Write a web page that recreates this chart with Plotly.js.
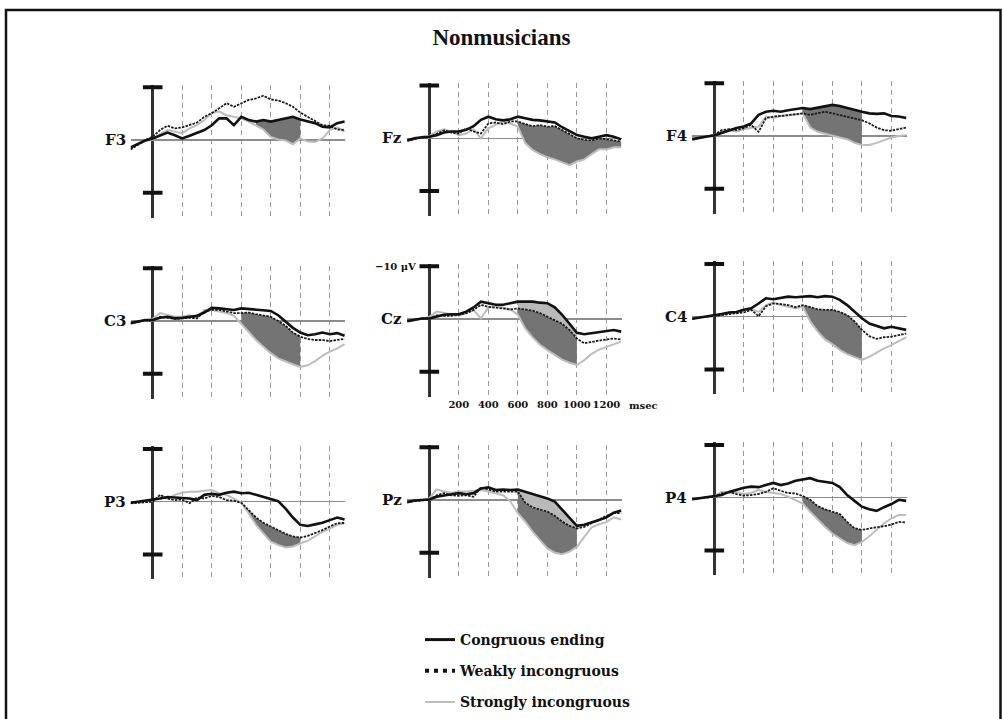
<!DOCTYPE html>
<html><head><meta charset="utf-8">
<script src="https://cdn.plot.ly/plotly-3.0.1.min.js"></script>
<style>html,body{margin:0;padding:0;background:#fff;}#chart{width:1003px;height:719px;}</style>
</head><body><div id="chart"></div>
<script>
// ---------- data ----------
const times = [-150,-100,-50,0,50,100,150,200,250,300,350,400,450,500,550,600,650,700,750,800,850,900,950,1000,1050,1100,1150,1200,1250,1300];
const channels = ['F3','Fz','F4','C3','Cz','C4','P3','Pz','P4'];
const conditionNames = ['Congruous ending','Weakly incongruous','Strongly incongruous'];
const xTickValues = [200,400,600,800,1000,1200];
const xTickLabels = ['200','400','600','800','1000','1200'];
const calibrationValues = [-10, 10];

// amplitudes in µV (negative plotted upward)
const F3_congruous = [1.4,0.8,0.1,-0.3,-0.9,-1.4,-0.9,-0.3,-0.8,-1.3,-1.9,-2.8,-4.1,-4.1,-2.8,-4.4,-3.8,-3.5,-3.8,-3.5,-3.8,-4.1,-4.4,-3.9,-3.5,-3.2,-2.5,-2.4,-3.2,-3.5];
const F3_weakly    = [1.8,0.9,0,-0.6,-1.9,-2.7,-2.2,-2.4,-2.8,-3.3,-4.4,-5.1,-6.0,-7.0,-6.3,-7.0,-7.6,-7.9,-8.4,-7.7,-7.5,-7.0,-6.3,-5.2,-4.4,-3.5,-2.8,-2.7,-2.0,-1.9];
const F3_strongly  = [1.6,0.8,0.1,0,-1.1,-1.9,-1.6,-1.3,-2.2,-2.8,-3.8,-5.1,-5.4,-4.7,-4.4,-4.1,-3.5,-2.8,-2.0,-0.6,-0.1,0.1,0.8,-0.3,0.3,0.4,-0.3,-1.9,-2.4,-1.6];

const Fz_congruous = [0.4,0,-0.2,-0.3,-0.6,-1.1,-1.3,-1.3,-1.6,-2.3,-3.5,-4.1,-3.6,-3.4,-3.6,-4.1,-3.8,-3.5,-3.4,-3.2,-3.0,-2.1,-1.3,-0.6,-0.3,0,-0.3,-0.6,-0.3,0.2];
const Fz_weakly    = [0.4,0.1,-0.1,-0.2,-0.9,-1.5,-1.1,-0.9,-1.9,-1.3,-0.9,-2.8,-3.0,-2.7,-3.2,-3.2,-2.7,-2.3,-2.5,-2.2,-2.3,-1.6,-0.8,0,0.3,0.4,0,0.2,0.4,0.6];
const Fz_strongly  = [0.6,0.2,-0.3,-0.4,-1.3,-1.7,-1.3,-0.6,-0.9,-1.7,0,-1.9,-2.5,-3.2,-2.8,-2.2,0.9,2.2,3.0,3.6,4.0,4.6,5.1,4.4,4.0,3.0,2.1,2.1,1.7,1.7];

const F4_congruous = [0.6,0.3,0.1,-0.1,-0.6,-1.1,-1.5,-1.8,-2.4,-4.0,-4.6,-4.8,-4.6,-4.9,-5.1,-5.3,-5.1,-5.4,-5.6,-5.9,-5.7,-5.3,-4.9,-4.6,-4.3,-4.2,-4.3,-3.8,-3.7,-3.4];
const F4_weakly    = [0.6,0.3,0,-0.2,-1.1,-1.3,-1.1,-1.5,-2.1,-0.8,-3.4,-3.7,-3.8,-4.0,-4.2,-4.3,-4.0,-4.3,-4.6,-4.3,-4.0,-3.7,-3.4,-3.0,-2.4,-1.6,-1.1,-1.0,-1.3,-1.6];
const F4_strongly  = [0.8,0.4,0.1,-0.2,-0.8,-1.1,-0.8,-1.3,-1.6,-1.8,-3.7,-3.4,-3.8,-4.0,-4.1,-4.2,-1.6,-0.8,-0.4,0,0.3,0.6,1.3,1.7,1.7,1.3,0.8,0.3,0,-0.2];

const C3_congruous = [0.4,0.1,-0.2,-0.2,-0.6,-0.8,-0.5,-0.6,-0.8,-1.0,-1.6,-2.5,-2.4,-2.3,-2.1,-2.4,-2.3,-2.1,-2.1,-1.9,-1.1,0.1,1.3,2.2,2.7,2.5,2.2,2.5,2.3,2.8];
const C3_weakly    = [0.4,0.1,-0.1,-0.1,-0.8,-0.6,-0.4,-0.5,-0.6,-0.5,-1.8,-2.1,-2.1,-1.8,-1.5,-1.5,-1.6,-1.3,-1.1,-0.8,0,0.9,2.2,3.0,3.4,3.6,3.6,3.8,3.6,3.4];
const C3_strongly  = [0.5,0.1,-0.1,-0.4,-1.5,-1.1,-0.8,-0.8,-1.1,-0.5,-2.1,-2.1,-1.8,-1.5,-1.0,0.5,2.2,3.6,4.9,6.1,7.1,7.7,8.2,8.7,8.4,7.6,6.6,5.8,5.2,4.4];

const Cz_congruous = [0.4,0.1,-0.1,-0.1,-0.4,-0.8,-0.9,-0.9,-1.4,-2.2,-3.3,-3.0,-2.7,-2.7,-3.0,-3.3,-3.3,-3.3,-3.1,-3.0,-2.2,-0.8,0.9,2.6,2.9,2.7,2.6,2.4,2.1,2.4];
const Cz_weakly    = [0.4,0.2,-0.1,-0.1,-0.7,-0.6,-0.6,-0.8,-1.1,-1.7,-2.7,-2.3,-2.2,-2.0,-1.8,-2.0,-1.8,-1.6,-1.1,-0.4,0.2,0.9,2.1,3.7,4.6,4.3,4.1,3.9,3.7,3.9];
const Cz_strongly  = [0.5,0.2,-0.1,-0.4,-1.4,-1.1,-0.8,-0.6,-1.1,-1.7,-0.1,-2.2,-2.5,-2.2,-1.8,-0.8,1.8,3.5,4.9,5.9,6.8,7.7,8.3,8.7,7.8,6.6,5.8,5.3,4.7,4.3];

const C4_congruous = [0.4,0.2,0,-0.2,-0.5,-0.8,-0.9,-1.3,-1.6,-2.5,-3.5,-3.3,-3.5,-3.8,-3.7,-3.8,-3.9,-3.7,-3.9,-3.8,-3.2,-2.2,-0.9,0.3,1.3,1.8,2.2,1.9,2.2,2.5];
const C4_weakly    = [0.4,0.1,0,-0.1,-0.3,-0.5,-0.6,-0.8,-1.3,-0.1,-2.0,-2.5,-2.4,-2.2,-1.8,-2.2,-1.8,-1.4,-1.3,-1.3,-0.9,-0.3,0.9,2.5,3.7,4.2,3.9,3.8,3.5,3.2];
const C4_strongly  = [0.4,0.1,0,-0.3,-0.6,-0.8,-0.9,-1.1,-1.4,-0.9,-2.2,-2.7,-2.2,-1.9,-1.6,-1.9,0.9,2.8,4.3,5.2,6.3,7.1,7.7,8.2,7.6,6.8,6.0,5.4,4.6,3.9];

const P3_congruous = [0.2,0,-0.1,-0.3,-0.6,-0.9,-0.8,-0.6,-0.6,-0.3,-1.3,-1.5,-1.3,-1.7,-1.9,-1.6,-1.7,-1.3,-0.9,-0.6,-0.1,1.3,3.0,4.4,4.6,4.3,4.0,3.5,3.0,3.4];
const P3_weakly    = [0.3,0.2,0,0,-1.3,-0.6,-0.3,-0.4,0.3,-0.8,-0.6,-1.1,-0.9,-0.3,-0.2,0.2,1.6,3.0,4.0,4.7,5.5,6.1,6.6,6.8,6.5,6.0,5.4,4.7,4.1,4.0];
const P3_strongly  = [0.3,0.1,-0.1,-0.2,-0.9,-0.6,-1.3,-1.7,-1.9,-1.9,-2.1,-2.2,-1.6,-1.3,-0.6,0.2,2.2,4.4,6.0,7.6,8.2,8.7,8.5,8.0,7.4,6.6,5.7,5.1,4.4,4.1];

const Pz_congruous = [0.4,0.1,0,-0.1,-0.6,-0.9,-1.1,-1.3,-1.1,-1.3,-2.2,-2.4,-1.9,-2.0,-1.9,-2.0,-1.6,-1.1,-0.8,-0.3,0.3,1.8,3.3,4.9,4.7,4.3,3.8,3.3,2.4,2.0];
const Pz_weakly    = [0.4,0.2,0,-0.1,-0.9,-1.3,-0.9,-0.8,-0.9,-0.6,-2.4,-2.0,-1.6,-1.6,-1.6,-1.6,0.5,1.4,1.8,2.2,3.0,4.1,4.9,5.4,5.1,4.4,3.7,3.0,2.5,2.5];
const Pz_strongly  = [0.5,0.1,0,-0.3,-2.0,-1.6,-1.4,-1.6,-1.6,-1.8,-1.9,-1.6,-1.3,-0.9,0.3,2.5,4.1,6.0,7.6,9.2,10.0,10.3,9.8,8.9,7.0,5.2,4.6,4.2,3.3,3.7];

const P4_congruous = [0.3,0.1,0,-0.2,-0.5,-1.1,-1.5,-1.9,-2.1,-2.0,-2.4,-2.8,-2.4,-2.7,-3.2,-3.5,-3.7,-3.2,-3.0,-2.8,-2.0,-0.5,0.6,1.7,2.2,2.5,1.8,1.2,0.4,0.6];
const P4_weakly    = [0.3,0.1,-0.1,-0.2,-0.8,-1.1,-0.7,-0.4,-0.5,-0.7,-1.1,-1.8,-1.3,-0.9,-0.8,-0.3,0.4,1.6,2.2,2.7,3.1,4.6,5.8,6.1,5.8,5.6,5.4,5.1,4.6,4.7];
const P4_strongly  = [0.3,0.1,0,-0.3,-1.1,-0.9,-1.1,-0.7,-0.9,-1.5,-1.1,-0.9,-0.7,-0.2,0.4,1.1,2.7,4.2,5.5,6.8,7.7,8.6,9.0,8.4,7.3,6.1,4.9,3.9,3.3,3.3];

// shaded (significant) windows, ms
const darkFillFrom  = [700,600,600,600,600,600,600,600,600];
const darkFillTo    = [1000,1300,1000,1000,1000,1000,1000,1000,1000];
const darkFillUpper = ['congruous','weakly','congruous','weakly','weakly','weakly','weakly','weakly','weakly'];
const lightFillFrom = [null,null,null,null,600,null,null,600,null];
const lightFillTo   = [null,null,null,null,1000,null,null,1000,null];

// ---------- lookup ----------
const series = {
  F3:{congruous:F3_congruous,weakly:F3_weakly,strongly:F3_strongly},
  Fz:{congruous:Fz_congruous,weakly:Fz_weakly,strongly:Fz_strongly},
  F4:{congruous:F4_congruous,weakly:F4_weakly,strongly:F4_strongly},
  C3:{congruous:C3_congruous,weakly:C3_weakly,strongly:C3_strongly},
  Cz:{congruous:Cz_congruous,weakly:Cz_weakly,strongly:Cz_strongly},
  C4:{congruous:C4_congruous,weakly:C4_weakly,strongly:C4_strongly},
  P3:{congruous:P3_congruous,weakly:P3_weakly,strongly:P3_strongly},
  Pz:{congruous:Pz_congruous,weakly:Pz_weakly,strongly:Pz_strongly},
  P4:{congruous:P4_congruous,weakly:P4_weakly,strongly:P4_strongly}
};

// ---------- layout geometry (pixels) ----------
const W = 1003, H = 719;
const panelOrigin = [[152.7,140],[429.3,138.3],[714.3,136],[152.7,321],[429.3,319],[714.3,316.7],[152.7,501.7],[429.3,500],[714.3,497.7]];
const PX_PER_MS = 0.1476, PX_PER_UV = 5.27;
const X_RANGE = [-150, 1305], Y_TOP = -10.5, Y_BOTTOM = 14.75;

const styles = {
  congruous:{color:'#111111', width:2.6},
  weakly:{color:'#1a1a1a', width:1.8, dash:'2.5px,1.2px'},
  strongly:{color:'#bdbdbd', width:2}
};
const DARK = '#747474', LIGHT = '#b9b9b9';
const serifBold = {family:'DejaVu Serif', color:'#111'};

function band(upper, lower, from, to){
  const xs=[], ys=[];
  times.forEach((t,i)=>{ if(t>=from && t<=to){ xs.push(t); ys.push(upper[i]); } });
  for(let i=times.length-1;i>=0;i--){ const t=times[i]; if(t>=from && t<=to){ xs.push(t); ys.push(lower[i]); } }
  return {xs, ys};
}

const traces = [];
const layout = {
  width: W, height: H, margin:{l:0,r:0,t:0,b:0},
  paper_bgcolor:'#ffffff', plot_bgcolor:'rgba(0,0,0,0)',
  showlegend:true, hovermode:false,
  title:{text:'<b>Nonmusicians</b>', font:{family:'Liberation Serif', size:23, color:'#111'}, x:0.5, xanchor:'center', y:1-37/H, yanchor:'middle'},
  legend:{x:420/W, y:1-624/H, xanchor:'left', yanchor:'top', bgcolor:'rgba(0,0,0,0)', borderwidth:0,
          font:{family:'DejaVu Serif', size:14, color:'#111'}, tracegroupgap:10, traceorder:'grouped'},
  annotations:[], shapes:[]
};

channels.forEach((ch, i) => {
  const s = i === 0 ? '' : String(i+1);
  const xa = 'x'+s, ya = 'y'+s;
  const [x0, y0] = panelOrigin[i];
  const left = x0 + X_RANGE[0]*PX_PER_MS, right = x0 + X_RANGE[1]*PX_PER_MS;
  const top = y0 + Y_TOP*PX_PER_UV, bottom = y0 + Y_BOTTOM*PX_PER_UV;
  const isCz = ch === 'Cz';
  layout['xaxis'+s] = {
    domain:[left/W, right/W], range:X_RANGE.slice(), anchor:ya,
    tickmode:'array', tickvals:xTickValues, ticktext:xTickLabels, tickangle:0,
    showticklabels:isCz, ticks:'', tickfont:{family:'DejaVu Serif', size:10, color:'#111', weight:'bold'},
    showgrid:true, gridcolor:'#9a9a9a', gridwidth:1, griddash:'5px,4px',
    zeroline:true, zerolinecolor:'#333333', zerolinewidth:2.5, showline:false, fixedrange:true
  };
  layout['yaxis'+s] = {
    domain:[1-bottom/H, 1-top/H], range:[Y_BOTTOM, Y_TOP], anchor:xa,
    showgrid:false, showticklabels:false, ticks:'',
    zeroline:true, zerolinecolor:'#8c8c8c', zerolinewidth:1.5, showline:false, fixedrange:true
  };
  const d = series[ch];
  const b1 = band(d[darkFillUpper[i]], d.strongly, darkFillFrom[i], darkFillTo[i]);
  traces.push({type:'scatter', mode:'lines', x:b1.xs, y:b1.ys, xaxis:xa, yaxis:ya, fill:'toself',
               fillcolor:DARK, line:{width:0, color:DARK}, showlegend:false, hoverinfo:'skip'});
  if (lightFillFrom[i] !== null) {
    const b2 = band(d.congruous, d.weakly, lightFillFrom[i], lightFillTo[i]);
    traces.push({type:'scatter', mode:'lines', x:b2.xs, y:b2.ys, xaxis:xa, yaxis:ya, fill:'toself',
                 fillcolor:LIGHT, line:{width:0, color:LIGHT}, showlegend:false, hoverinfo:'skip'});
  }
  ['strongly','weakly','congruous'].forEach(c => {
    traces.push({type:'scatter', mode:'lines', x:times, y:d[c], xaxis:xa, yaxis:ya,
                 line:Object.assign({}, styles[c]), showlegend:false, hoverinfo:'skip'});
  });
  traces.push({type:'scatter', mode:'markers', x:calibrationValues.map(()=>0), y:calibrationValues, xaxis:xa, yaxis:ya,
               marker:{symbol:'line-ew', size:14, line:{width:4, color:'#111'}}, showlegend:false, hoverinfo:'skip'});
  layout.annotations.push({xref:xa, yref:ya, x:times[0], y:0, xanchor:'right', yanchor:'middle', xshift:-3,
    text:'<b>'+ch+'</b>', showarrow:false, font:Object.assign({size:15}, serifBold)});
  if (isCz) {
    layout.annotations.push({xref:xa, yref:ya, x:0, y:calibrationValues[0], xanchor:'right', yanchor:'middle', xshift:-11,
      text:'<b>\u221210 \u03bcV</b>', showarrow:false, font:Object.assign({size:10}, serifBold)});
    layout.annotations.push({xref:xa, yref:ya, x:1300, y:14, xanchor:'left', yanchor:'middle', xshift:6, yshift:-13,
      text:'<b>msec</b>', showarrow:false, font:Object.assign({size:10}, serifBold)});
  }
});

const legendStyles = [
  {color:'#111', width:3},
  {color:'#111', width:4, dash:'4px,5px'},
  {color:'#bdbdbd', width:2}
];
conditionNames.forEach((nm, k) => {
  traces.push({type:'scatter', mode:'lines', x:[null], y:[null], xaxis:'x', yaxis:'y', name:'<b>'+nm+'</b>',
               legendgroup:'g'+k, line:legendStyles[k], showlegend:true, hoverinfo:'skip'});
});

layout.shapes.push({type:'rect', xref:'paper', yref:'paper', x0:6/W, x1:1000.5/W, y0:-0.05, y1:1-10/H,
                    line:{color:'#111', width:2.5}, fillcolor:'rgba(0,0,0,0)', layer:'above'});

Plotly.newPlot('chart', traces, layout, {staticPlot:true, displayModeBar:false});
</script>
</body></html>
